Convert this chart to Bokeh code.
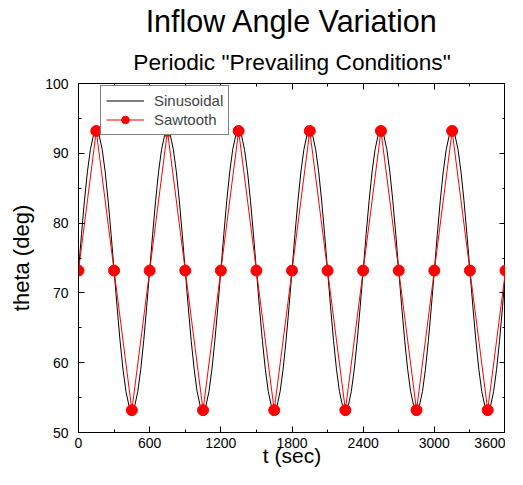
from bokeh.plotting import figure
from bokeh.models import (LinearAxis, FixedTicker, Range1d, Title, Legend, LegendItem)
from bokeh.embed import file_html
from bokeh.resources import INLINE

title_text = "Inflow Angle Variation"
subtitle_text = 'Periodic "Prevailing Conditions"'
x_label = "t (sec)"
y_label = "theta (deg)"

x_ticks = [0, 600, 1200, 1800, 2400, 3000, 3600]
x_minor = [300, 900, 1500, 2100, 2700, 3300]
y_ticks = [50, 60, 70, 80, 90, 100]
y_minor = [55, 65, 75, 85, 95]

# Sawtooth series (markers every 150 s)
saw_t = [0, 150, 300, 450, 600, 750, 900, 1050, 1200, 1350, 1500, 1650, 1800,
         1950, 2100, 2250, 2400, 2550, 2700, 2850, 3000, 3150, 3300, 3450, 3600]
saw_theta = [73.2, 93.2, 73.2, 53.2, 73.2, 93.2, 73.2, 53.2, 73.2, 93.2, 73.2, 53.2, 73.2,
             93.2, 73.2, 53.2, 73.2, 93.2, 73.2, 53.2, 73.2, 93.2, 73.2, 53.2, 73.2]

# Sinusoidal series, sampled every 25 s
sin_t = list(range(0, 3601, 25))
sin_theta = [
    73.2, 78.38, 83.2, 87.34, 90.52, 92.52, 93.2, 92.52, 90.52, 87.34, 83.2, 78.38,
    73.2, 68.02, 63.2, 59.06, 55.88, 53.88, 53.2, 53.88, 55.88, 59.06, 63.2, 68.02,
    73.2, 78.38, 83.2, 87.34, 90.52, 92.52, 93.2, 92.52, 90.52, 87.34, 83.2, 78.38,
    73.2, 68.02, 63.2, 59.06, 55.88, 53.88, 53.2, 53.88, 55.88, 59.06, 63.2, 68.02,
    73.2, 78.38, 83.2, 87.34, 90.52, 92.52, 93.2, 92.52, 90.52, 87.34, 83.2, 78.38,
    73.2, 68.02, 63.2, 59.06, 55.88, 53.88, 53.2, 53.88, 55.88, 59.06, 63.2, 68.02,
    73.2, 78.38, 83.2, 87.34, 90.52, 92.52, 93.2, 92.52, 90.52, 87.34, 83.2, 78.38,
    73.2, 68.02, 63.2, 59.06, 55.88, 53.88, 53.2, 53.88, 55.88, 59.06, 63.2, 68.02,
    73.2, 78.38, 83.2, 87.34, 90.52, 92.52, 93.2, 92.52, 90.52, 87.34, 83.2, 78.38,
    73.2, 68.02, 63.2, 59.06, 55.88, 53.88, 53.2, 53.88, 55.88, 59.06, 63.2, 68.02,
    73.2, 78.38, 83.2, 87.34, 90.52, 92.52, 93.2, 92.52, 90.52, 87.34, 83.2, 78.38,
    73.2, 68.02, 63.2, 59.06, 55.88, 53.88, 53.2, 53.88, 55.88, 59.06, 63.2, 68.02,
    73.2,
]

FONT = "Liberation Sans"
FH = 349

p = figure(frame_width=427, frame_height=FH, output_backend="svg", toolbar_location=None,
           title=None,
           x_range=Range1d(x_ticks[0], x_ticks[-1]),
           y_range=Range1d(y_ticks[0], y_ticks[-1]),
           min_border=0)

p.background_fill_color = "white"
p.border_fill_color = "white"
p.outline_line_color = "black"
p.outline_line_width = 1
p.xgrid.visible = False
p.ygrid.visible = False

xt = FixedTicker(ticks=x_ticks, minor_ticks=x_minor)
yt = FixedTicker(ticks=y_ticks, minor_ticks=y_minor)


def style_axis(ax):
    ax.axis_line_color = "black"
    ax.major_tick_line_color = "black"
    ax.minor_tick_line_color = "black"
    ax.major_tick_in = 6
    ax.major_tick_out = 0
    ax.minor_tick_in = 3
    ax.minor_tick_out = 0
    ax.major_label_text_font = FONT
    ax.major_label_text_font_size = "14px"
    ax.major_label_text_color = "black"
    ax.axis_label_text_font = FONT
    ax.axis_label_text_font_style = "normal"
    ax.axis_label_text_color = "black"


def blank_axis(ticker, ticks, extent, standoff=0):
    # an axis without visible labels: either tick marks only, or pure spacing
    ax = LinearAxis(ticker=ticker, major_label_overrides={t: "" for t in ticks})
    style_axis(ax)
    ax.major_label_text_font_size = "1px"
    ax.major_label_standoff = standoff
    if extent:
        ax.major_tick_out = extent
        ax.major_tick_in = 0
        ax.minor_tick_in = 0
        ax.axis_line_color = None
        ax.major_tick_line_color = None
        ax.minor_tick_line_color = None
    return ax


p.xaxis.ticker = xt
p.yaxis.ticker = yt
style_axis(p.xaxis[0])
style_axis(p.yaxis[0])
p.xaxis.axis_label = x_label
p.xaxis.axis_label_text_font_size = "21px"
p.xaxis.major_label_standoff = 5
p.xaxis.axis_label_standoff = -7
p.yaxis.axis_label = y_label
p.yaxis.axis_label_text_font_size = "22px"
p.yaxis.major_label_standoff = 10
p.yaxis.axis_label_standoff = 8

p.add_layout(blank_axis(xt, x_ticks, 0), "above")
p.add_layout(blank_axis(yt, y_ticks, 0, standoff=10), "right")
p.add_layout(blank_axis(yt, y_ticks, 6), "left")

sub = Title(text=subtitle_text, text_font=FONT, text_font_size="22.7px",
            text_font_style="normal", align="center", standoff=17, text_color="black")
main = Title(text=title_text, text_font=FONT, text_font_size="30.5px",
             text_font_style="normal", align="center", standoff=2, text_color="black")
p.add_layout(sub, "above")
p.add_layout(main, "above")

sin_r = p.line(sin_t, sin_theta, line_color="black", line_width=1)
saw_l = p.line(saw_t, saw_theta, line_color="red", line_width=1)
saw_m = p.scatter(saw_t, saw_theta, size=11, fill_color="red", line_color="red")

legend = Legend(items=[LegendItem(label="Sinusoidal", renderers=[sin_r]),
                       LegendItem(label="Sawtooth", renderers=[saw_l, saw_m])],
                location=(22, FH - 52))
legend.border_line_color = "black"
legend.border_line_width = 1
legend.background_fill_color = "white"
legend.background_fill_alpha = 1
legend.label_text_font = FONT
legend.label_text_font_size = "15px"
legend.glyph_width = 38
legend.glyph_height = 19
legend.label_height = 19
legend.label_standoff = 10
legend.padding = 5
legend.spacing = 0
legend.margin = 0
p.add_layout(legend)

open("out.html", "w").write(file_html(p, INLINE))
